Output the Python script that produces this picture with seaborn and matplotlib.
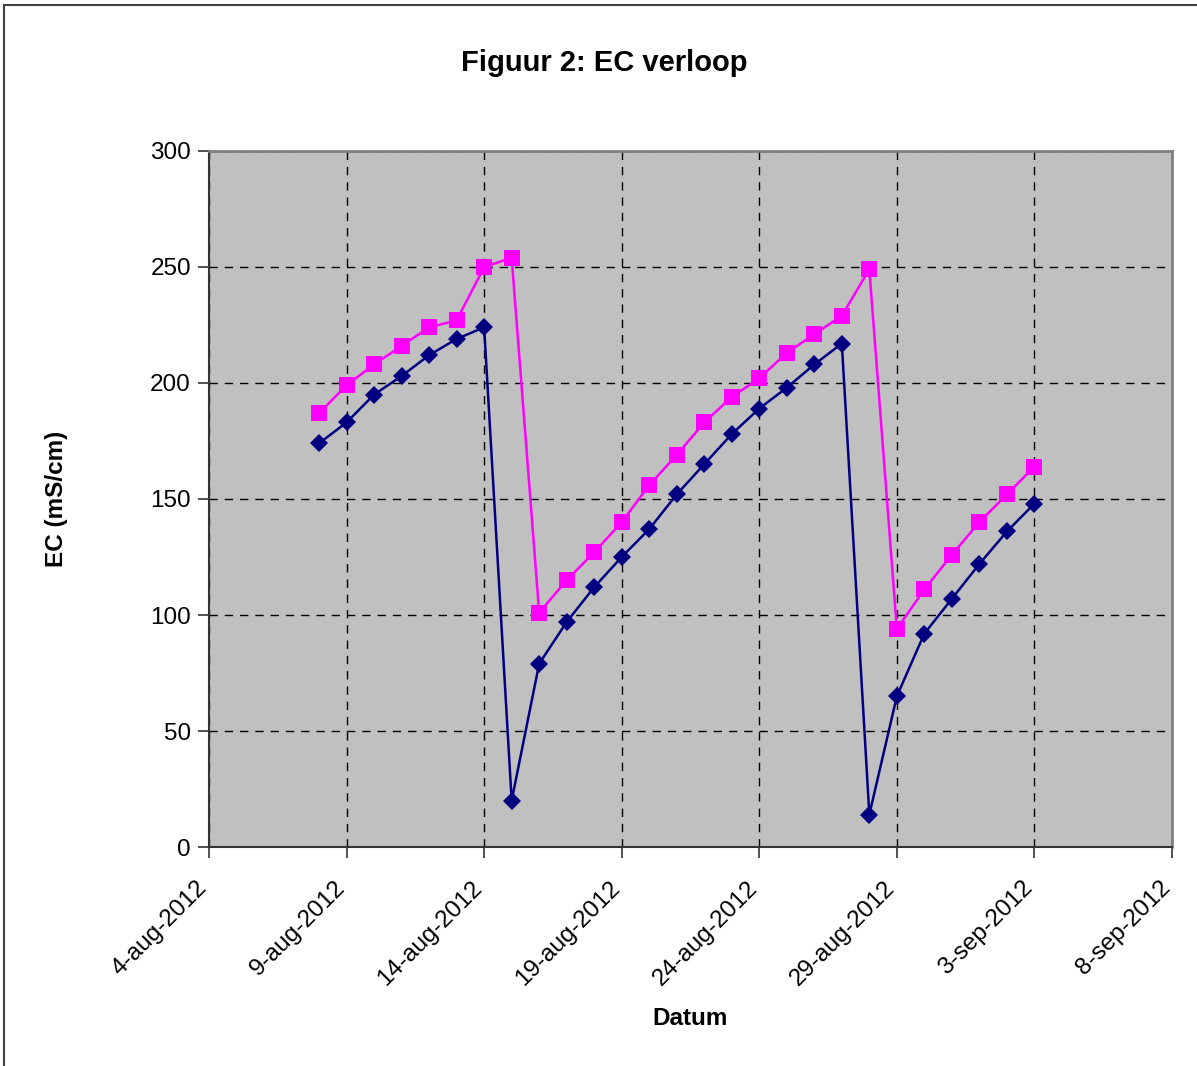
import matplotlib
matplotlib.use("Agg")
import matplotlib.pyplot as plt
import matplotlib.transforms as mtransforms
from matplotlib.patches import Rectangle
import numpy as np
import pandas as pd
import seaborn as sns

# Daily EC measurements (mS/cm)
dates = pd.date_range("2012-08-08", "2012-09-03", freq="D")
ec_upper = [187, 199, 208, 216, 224, 227, 250, 254, 101, 115, 127, 140, 156, 169,
            183, 194, 202, 213, 221, 229, 249, 94, 111, 126, 140, 152, 164]
ec_lower = [174, 183, 195, 203, 212, 219, 224, 20, 79, 97, 112, 125, 137, 152,
            165, 178, 189, 198, 208, 217, 14, 65, 92, 107, 122, 136, 148]
series_names = ["EC boven", "EC onder"]
tick_dates = pd.date_range("2012-08-04", "2012-09-08", freq="5D")
y_ticks = [0, 50, 100, 150, 200, 250, 300]
dutch_months = {8: "aug", 9: "sep"}

df = pd.DataFrame({
    "Datum": np.concatenate([dates, dates]),
    "EC": ec_upper + ec_lower,
    "reeks": [series_names[0]] * len(dates) + [series_names[1]] * len(dates),
})

sns.set_theme(style="white")
plt.rcParams["font.family"] = ["Liberation Sans", "DejaVu Sans"]
plt.rcParams["text.color"] = "black"
plt.rcParams["axes.labelcolor"] = "black"
plt.rcParams["xtick.labelcolor"] = "black"
plt.rcParams["ytick.labelcolor"] = "black"

W, H = 1197, 1066
fig = plt.figure(figsize=(W / 100, H / 100), dpi=100)
ax = fig.add_axes([209 / W, 1 - 847 / H, (1172 - 209) / W, (847 - 151) / H])
ax.set_facecolor("#c0c0c0")

sns.lineplot(
    data=df, x="Datum", y="EC", hue="reeks", style="reeks",
    palette={series_names[0]: "#ff00ff", series_names[1]: "#000080"},
    markers={series_names[0]: "s", series_names[1]: "D"},
    dashes=False, markersize=11.5, markeredgewidth=0, linewidth=1.8,
    legend=False, ax=ax, zorder=3,
)
# slightly smaller diamonds
for line in ax.get_lines():
    if line.get_marker() == "D":
        line.set_markersize(9.5)

ax.set_xlim(tick_dates[0], tick_dates[-1])
ax.set_ylim(0, 300)
ax.set_xticks(tick_dates)
ax.set_xticklabels([f"{d.day}-{dutch_months[d.month]}-{d.year}" for d in tick_dates],
                   rotation=45, ha="right", va="center", rotation_mode="anchor",
                   fontsize=17.5)
ax.set_yticks(y_ticks)
ax.set_yticklabels([str(v) for v in y_ticks], fontsize=17.5)
ax.tick_params(axis="both", direction="out", length=8, width=1.2, color="#333333",
               bottom=True, left=True)
ax.tick_params(axis="y", pad=5)
ax.tick_params(axis="x", pad=19)
shift = mtransforms.ScaledTranslation(-5 / 100, 0, fig.dpi_scale_trans)
for lbl in ax.get_xticklabels():
    lbl.set_transform(lbl.get_transform() + shift)

ax.grid(True, color="black", linestyle=(0, (6, 5)), linewidth=1.0)
ax.set_axisbelow(True)
for side in ["left", "bottom"]:
    ax.spines[side].set_color("#333333")
    ax.spines[side].set_linewidth(1.5)
for side in ["top", "right"]:
    ax.spines[side].set_color("#808080")
    ax.spines[side].set_linewidth(2)

ax.set_xlabel("Datum", fontsize=17.5, fontweight="bold")
ax.set_ylabel("EC (mS/cm)", fontsize=17.5, fontweight="bold")
ax.xaxis.set_label_coords(0.5, -0.230)
ax.yaxis.set_label_coords(-0.146, 0.5)

fig.text(604 / W, 1 - 63 / H, "Figuur 2: EC verloop", fontsize=21,
         fontweight="bold", ha="center", va="center")

# chart frame
fig.patches.append(Rectangle((4 / W, -0.01), 1.05, 1 - 5 / H + 0.01,
                             transform=fig.transFigure, fill=False,
                             edgecolor="#404040", linewidth=1.5))

fig.savefig("out.png", dpi=100, facecolor="white")
